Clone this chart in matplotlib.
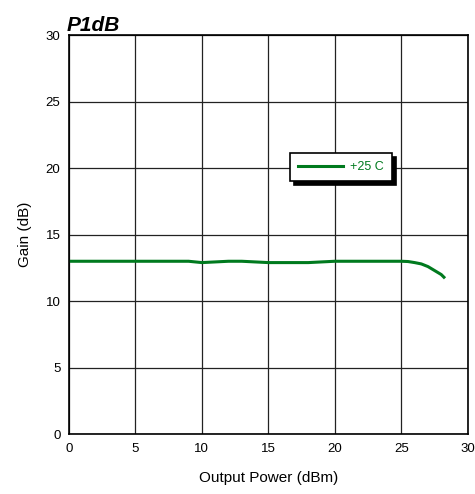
import matplotlib
matplotlib.use("Agg")
import matplotlib.pyplot as plt

plt.rcParams["font.family"] = ["Liberation Sans", "DejaVu Sans"]

# ---- data ----
pout = [0, 2, 4, 6, 8, 9, 10, 11, 12, 13, 14, 15, 16, 17, 18, 19, 20, 21, 22,
        23, 24, 25, 25.5, 26, 26.5, 27, 27.5, 28, 28.2]
gain = [13.0, 13.0, 13.0, 13.0, 13.0, 13.0, 12.9, 12.95, 13.0, 13.0, 12.95, 12.9,
        12.9, 12.9, 12.9, 12.95, 13.0, 13.0, 13.0, 13.0, 13.0, 13.0, 12.98,
        12.9, 12.8, 12.6, 12.3, 12.0, 11.8]
xticks = [0, 5, 10, 15, 20, 25, 30]
yticks = [0, 5, 10, 15, 20, 25, 30]
GREEN = "#007a1e"

fig = plt.figure(figsize=(4.75, 4.94), dpi=100)
ax = fig.add_axes([0.145, 0.121, 0.840, 0.808])
ax.plot(pout, gain, color=GREEN, lw=2.2, label="+25 C")
ax.set_xlim(0, 30)
ax.set_ylim(0, 30)
ax.set_xticks(xticks)
ax.set_yticks(yticks)
ax.tick_params(length=0, labelsize=9.5, pad=6)
ax.grid(True, color="#222222", lw=0.9)
for sp in ax.spines.values():
    sp.set_color("black")
    sp.set_linewidth(1.2)
ax.set_xlabel("Output Power (dBm)", fontsize=11, labelpad=12)
ax.set_ylabel("Gain (dB)", fontsize=11, labelpad=10)
ax.set_title("P1dB", fontsize=15, fontweight="bold", fontstyle="italic", loc="left",
             pad=1, x=-0.005)

leg = ax.legend(loc="upper left", bbox_to_anchor=(0.553, 0.705), fontsize=9,
                frameon=True, fancybox=False, framealpha=1, edgecolor="black",
                shadow={"color": "black", "alpha": 1, "ox": 3, "oy": -3},
                handlelength=3.6, borderpad=0.65, handletextpad=0.6,
                borderaxespad=0)
leg.get_frame().set_linewidth(1.2)
for t in leg.get_texts():
    t.set_color(GREEN)

fig.savefig("out.png", dpi=100)
